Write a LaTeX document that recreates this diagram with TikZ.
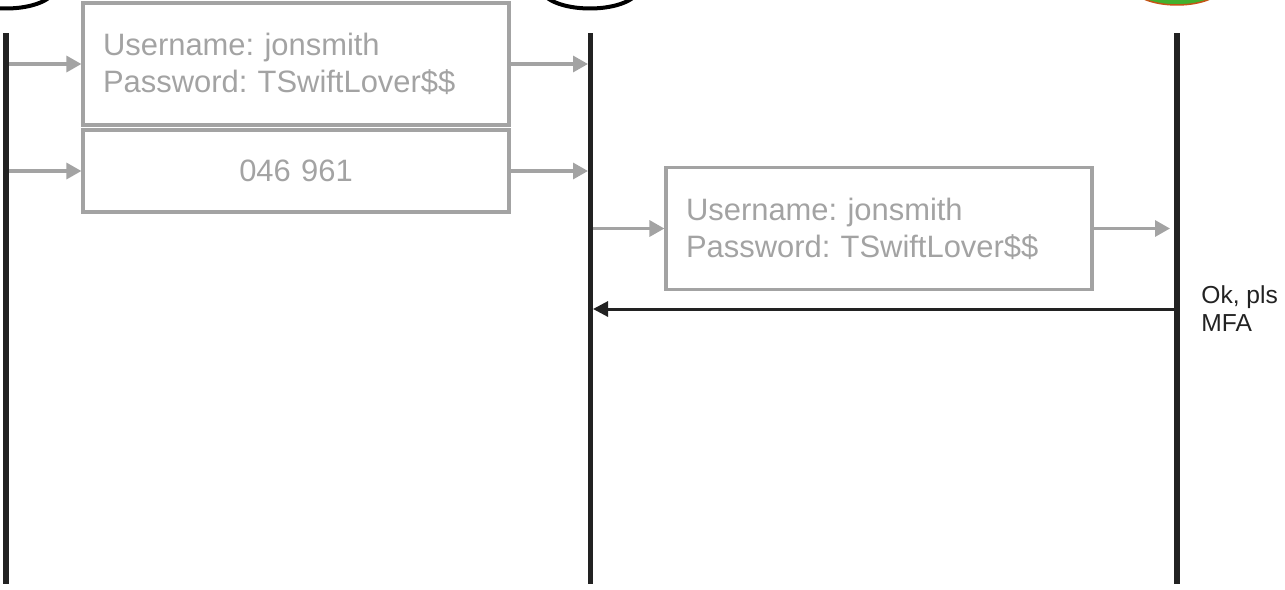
\documentclass[tikz,border=0pt]{standalone}
\usepackage{fontspec}
\setmainfont{Liberation Sans}
\usetikzlibrary{arrows.meta,shapes.geometric}
\definecolor{msggray}{RGB}{163,163,163}
\definecolor{linedark}{RGB}{34,34,34}
\definecolor{okgreen}{RGB}{66,176,46}
\definecolor{okrim}{RGB}{196,84,22}

\begin{document}
\frenchspacing
\begin{tikzpicture}[x=0.02cm,y=-0.02cm,
    credbox/.style={draw=msggray,line width=0.065cm,text=msggray,minimum height=2.44cm,inner xsep=0.4cm,text width=7.72cm,font=\fontsize{17.6}{21}\selectfont},
    lifeline/.style={draw=linedark,line width=0.11cm},
    head/.style={ellipse,draw=black,line width=0.08cm,minimum width=1.95cm,minimum height=0.82cm},
    fwd/.style={draw=msggray,line width=0.065cm,-{Triangle[length=0.3cm,width=0.32cm]}},
    back/.style={draw=linedark,line width=0.06cm,-{Triangle[length=0.3cm,width=0.3cm]}},
    reply/.style={inner sep=0pt,align=left,text=linedark,font=\fontsize{14}{16}\selectfont}
]
\useasboundingbox (0,0) rectangle (1285,589);
\clip (0,0) rectangle (1285,589);

% heads, cut off at the top
\node[head] (victimhead) at (6,-12) {};
\node[head] (phisherhead) at (590,-12) {};
\node[ellipse,fill=okgreen,draw=okrim,line width=0.03cm,minimum width=1.85cm,minimum height=0.8cm] (sitehead) at (1177,-15) {};

% lifelines
\coordinate (vtop) at (6,33);
\coordinate (vbot) at (6,584);
\coordinate (ptop) at (590.5,33);
\coordinate (pbot) at (590.5,584);
\coordinate (stop) at (1177,33);
\coordinate (sbot) at (1177,584);

% messages
\node[credbox,align=left] (cred) at (296,64) {Username: jonsmith\\Password: TSwiftLover\$\$};
\node[credbox,align=center,minimum height=1.64cm] (code) at (296,171) {046 961};
\node[credbox,align=left] (relay) at (879,228.5) {Username: jonsmith\\Password: TSwiftLover\$\$};
\node[reply,anchor=west] (mfa) at (1201,309) {Ok, pls\\MFA};

\draw[fwd] (cred.west -| vtop) -- (cred.west);
\draw[fwd,shorten >=0.05cm] (cred.east) -- (cred.east -| ptop);
\draw[fwd] (code.west -| vtop) -- (code.west);
\draw[fwd,shorten >=0.05cm] (code.east) -- (code.east -| ptop);
\draw[fwd] (relay.west -| ptop) -- (relay.west);
\draw[fwd,shorten >=0.14cm] (relay.east) -- (relay.east -| stop);
\draw[back,shorten >=0.05cm] (mfa.west -| stop) -- (mfa.west -| ptop);

\draw[lifeline] (vtop) -- (vbot);
\draw[lifeline] (ptop) -- (pbot);
\draw[lifeline] (stop) -- (sbot);
\end{tikzpicture}
\end{document}
